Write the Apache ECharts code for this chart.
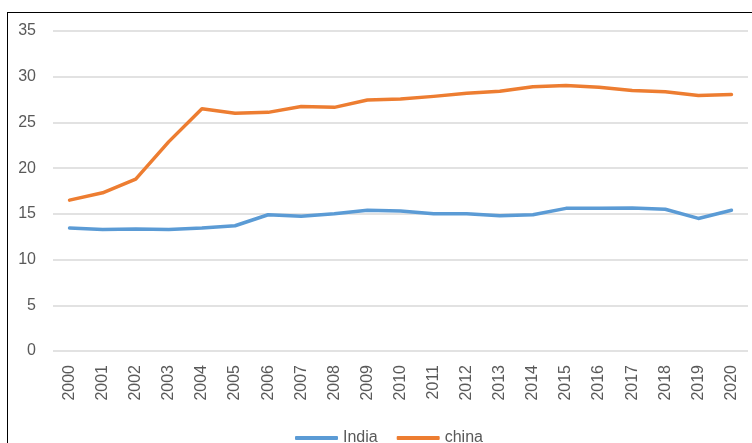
<!DOCTYPE html>
<html>
<head>
<meta charset="utf-8">
<script src="https://cdn.jsdelivr.net/npm/echarts@6/dist/echarts.min.js"></script>
<style>
  html, body { margin: 0; padding: 0; background: #fff; }
  #chart { width: 752px; height: 443px; position: relative; }
  #frame {
    position: absolute; left: 7px; top: 12px; width: 800px; height: 500px;
    border: 1px solid #000; pointer-events: none;
  }
</style>
</head>
<body>
<div id="chart"></div>
<div id="frame"></div>
<script>
  // years on the x axis
  const years = ['2000', '2001', '2002', '2003', '2004', '2005', '2006', '2007', '2008', '2009',
    '2010', '2011', '2012', '2013', '2014', '2015', '2016', '2017', '2018', '2019', '2020']
  const india = [13.45, 13.3, 13.35, 13.3, 13.45, 13.7, 14.9, 14.75, 15.0, 15.4,
    15.3, 15.0, 15.0, 14.8, 14.9, 15.6, 15.6, 15.65, 15.5, 14.5, 15.4]
  const china = [16.5, 17.3, 18.8, 22.9, 26.5, 26.0, 26.1, 26.75, 26.65, 27.45,
    27.55, 27.85, 28.2, 28.4, 28.9, 29.05, 28.85, 28.5, 28.35, 27.95, 28.05]

  const myChart = echarts.init(document.getElementById('chart'))
  const labelColor = '#595959'
  const option = {
    animation: false,
    textStyle: { fontFamily: 'Liberation Sans' },
    grid: { left: 53, right: 4, top: 31, bottom: 92, containLabel: false },
    legend: {
      top: 425,
      left: 290,
      icon: 'roundRect',
      itemWidth: 43,
      itemHeight: 4,
      itemGap: 19,
      textStyle: { color: labelColor, fontSize: 16 },
      data: ['India', 'china']
    },
    xAxis: {
      type: 'category',
      data: years,
      boundaryGap: true,
      axisLine: { show: false },
      axisTick: { show: false },
      axisLabel: { rotate: 90, color: labelColor, fontSize: 16, margin: 14, interval: 0 }
    },
    yAxis: {
      type: 'value',
      min: 0,
      max: 35,
      interval: 5,
      axisLine: { show: false },
      axisTick: { show: false },
      axisLabel: { color: labelColor, fontSize: 16, margin: 17 },
      splitLine: { lineStyle: { color: '#d9d9d9', width: 1.5 } }
    },
    series: [
      {
        name: 'India',
        type: 'line',
        data: india,
        symbol: 'none',
        color: '#5B9BD5',
        lineStyle: { width: 3.5, cap: 'round', join: 'round' }
      },
      {
        name: 'china',
        type: 'line',
        data: china,
        symbol: 'none',
        color: '#ED7D31',
        lineStyle: { width: 3.5, cap: 'round', join: 'round' }
      }
    ]
  }
  myChart.setOption(option)
</script>
</body>
</html>
